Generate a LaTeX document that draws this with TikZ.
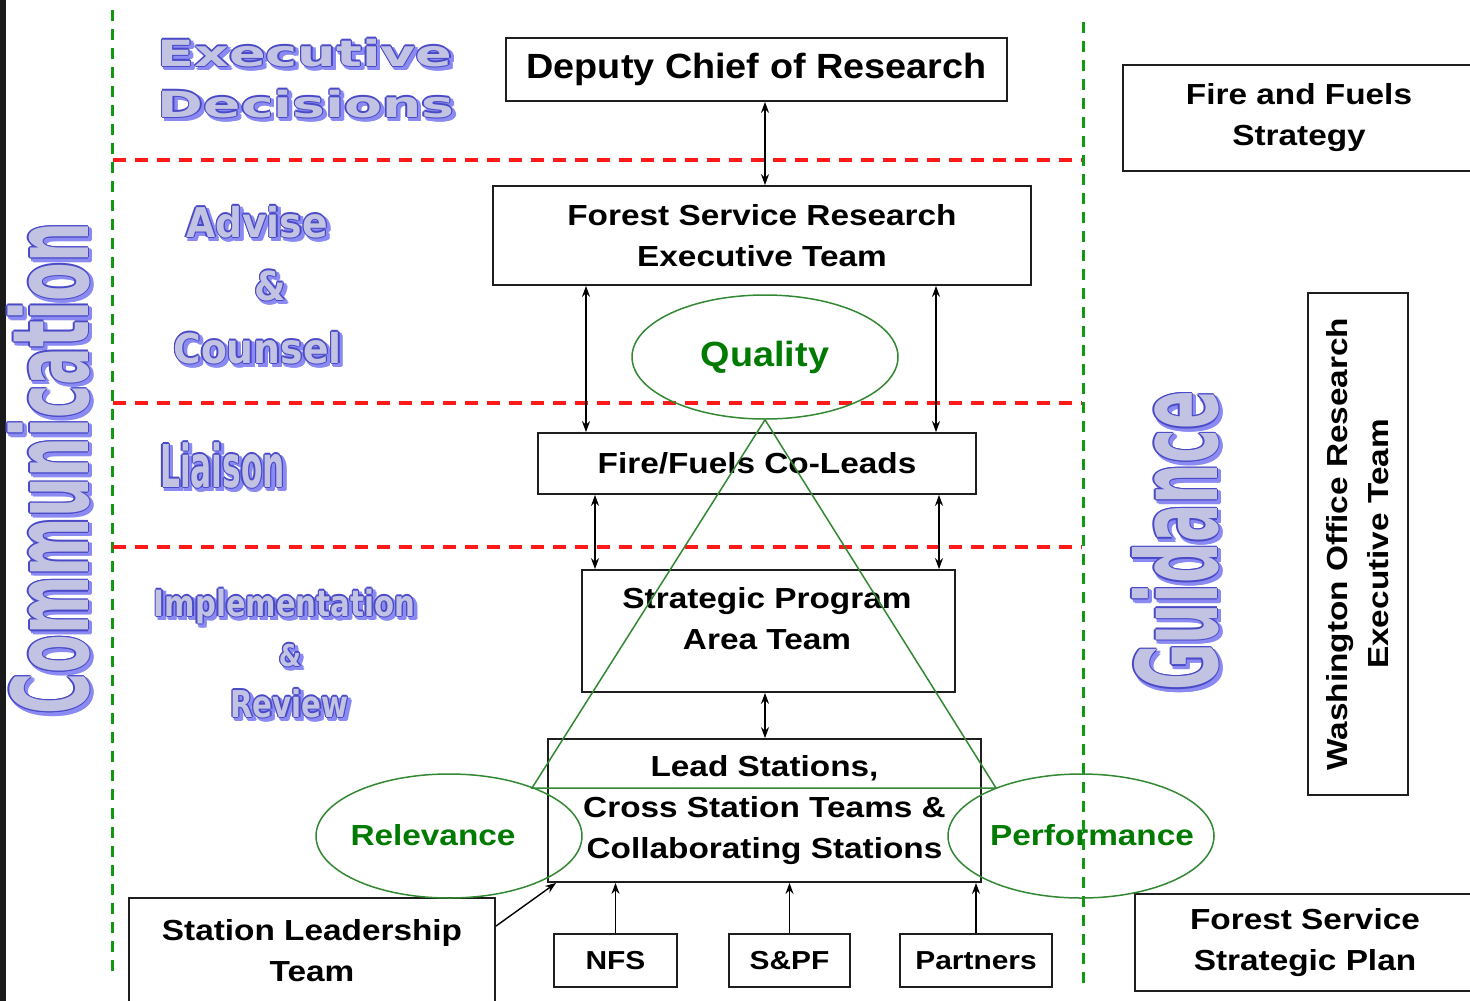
\documentclass[tikz,border=0pt]{standalone}
\usepackage{fontspec}
\usepackage{graphicx}
\usetikzlibrary{arrows.meta,shapes.geometric}
\setmainfont{Liberation Sans}
\newfontfamily\mainf{Liberation Sans}[FakeStretch=1.15]
\newfontfamily\depf{Liberation Sans}[FakeStretch=1.08]
\newfontfamily\wafont{DejaVu Sans}
\definecolor{waFill}{HTML}{C2C3E2}
\definecolor{waLine}{HTML}{4A4AC8}
\definecolor{waShadow}{HTML}{8A8AF2}
\definecolor{dkgreen}{HTML}{007A00}
\definecolor{elgreen}{HTML}{338833}
\definecolor{redd}{HTML}{FF1A1A}
\definecolor{grd}{HTML}{119911}
\definecolor{boxline}{HTML}{1E1E1E}
\definecolor{strip}{HTML}{1A1A1A}
\def\waoff{1.3/0,0.92/0.92,0/1.3,-0.92/0.92,-1.3/0,-0.92/-0.92,0/-1.3,0.92/-0.92}
\def\shoff{1.8/0,1.27/1.27,0/1.8,-1.27/1.27,-1.8/0,-1.27/-1.27,0/-1.8,1.27/-1.27}
\newcommand\wordart[7]{%
  \foreach \dx/\dy [count=\k] in \shoff {
    \node[wa, text=waShadow, #4] (#1-s\k) at ({#2+3+\dx},{#3+3+\dy}) {\fontsize{#5}{#5}\selectfont\scalebox{#6}[1]{#7}};
  }
  \foreach \dx/\dy [count=\k] in \waoff {
    \node[wa, text=waLine, #4] (#1-o\k) at ({#2+\dx},{#3+\dy}) {\fontsize{#5}{#5}\selectfont\scalebox{#6}[1]{#7}};
  }
  \node[wa, text=waFill, #4] (#1) at (#2,#3) {\fontsize{#5}{#5}\selectfont\scalebox{#6}[1]{#7}};
}
\tikzset{
  wa/.style={font=\wafont\bfseries, anchor=base, inner sep=0pt},
  box/.style={draw=boxline, line width=1.8pt, rectangle, inner sep=0pt, align=center,
    font=\mainf\bfseries\fontsize{29}{41}\selectfont},
  small/.style={font=\mainf\bfseries\fontsize{26}{30}\selectfont},
  txt/.style={inner sep=0pt, align=center, font=\mainf\bfseries\fontsize{29}{41}\selectfont},
  ell/.style={ellipse, draw=elgreen, line width=1.5pt, minimum width=266pt, minimum height=124pt, inner sep=0pt},
  gtxt/.style={inner sep=0pt, text=dkgreen, font=\mainf\bfseries\fontsize{29}{34}\selectfont},
  tri/.style={draw=elgreen, line width=1.5pt},
  reddash/.style={draw=redd, line width=3.2pt, dash pattern=on 13pt off 9pt},
  grdash/.style={draw=grd, line width=3pt, dash pattern=on 11pt off 8pt},
  darr/.style={line width=1.4pt, {Stealth[length=11pt,width=8pt]}-{Stealth[length=11pt,width=8pt]}},
  sarr/.style={line width=1.4pt, -{Stealth[length=11pt,width=8pt]}}
}
\begin{document}
\begin{tikzpicture}[x=1pt, y=-1pt]
\useasboundingbox (0,0) rectangle (1470,1001);
\fill[white] (0,0) rectangle (1470,1001);
\fill[strip] (0,0) rectangle (6,1001);

% dashed guide lines
\draw[grdash] (112,10) -- (112,975);
\draw[grdash] (1083,22) -- (1083,990);
\draw[reddash] (113,160) -- (1082,160);
\draw[reddash] (113,403) -- (1082,403);
\draw[reddash] (113,547) -- (1082,547);

% boxes
\node[box, minimum width=501pt, minimum height=63pt, font=\depf\bfseries\fontsize{35}{40}\selectfont] (deputy) at (756.5,69.5) {Deputy Chief of Research};
\node[box, minimum width=538pt, minimum height=99pt] (fsr) at (762,235.5) {Forest Service Research\\Executive Team};
\node[box, minimum width=438pt, minimum height=61pt] (col) at (757,463.5) {Fire/Fuels Co-Leads};
\node[box, minimum width=373pt, minimum height=122pt] (spa) at (768.5,631) {};
\node[txt] (spat) at (767,619) {Strategic Program\\Area Team};
\node[box, minimum width=433pt, minimum height=143pt] (lead) at (764.5,810.5) {Lead Stations,\\Cross Station Teams \&\\Collaborating Stations};
\node[box, minimum width=366pt, minimum height=105pt] (slt) at (312,950.5) {Station Leadership\\Team};
\node[box, small, minimum width=123pt, minimum height=53pt] (nfs) at (615.5,960.5) {NFS};
\node[box, small, minimum width=121pt, minimum height=53pt] (spf) at (789.5,960.5) {S\&PF};
\node[box, small, minimum width=152pt, minimum height=53pt] (partners) at (976,960.5) {Partners};
\node[box, minimum width=352pt, minimum height=106pt] (ffs) at (1299,118) {Fire and Fuels\\Strategy};
\node[box, rotate=90, minimum width=502pt, minimum height=100pt] (wo) at (1358,544) {Washington Office Research\\Executive Team};
\node[box, minimum width=340pt, minimum height=97pt] (fssp) at (1305,942.5) {Forest Service\\Strategic Plan};

% arrows
\coordinate (a1) at ([xshift=8.5pt]deputy.south);
\draw[darr] (a1) -- (a1 |- fsr.north);
\coordinate (a2) at ([xshift=-176pt]fsr.south);
\draw[darr] (a2) -- (a2 |- col.north);
\coordinate (a3) at ([xshift=174pt]fsr.south);
\draw[darr] (a3) -- (a3 |- col.north);
\coordinate (a4) at ([xshift=-162pt]col.south);
\draw[darr] (a4) -- (a4 |- spa.north);
\coordinate (a5) at ([xshift=182pt]col.south);
\draw[darr] (a5) -- (a5 |- spa.north);
\coordinate (a6) at ([xshift=-3.5pt]spa.south);
\draw[darr] (a6) -- (a6 |- lead.north);
\coordinate (s1) at ([yshift=-29pt]slt.north east);
\coordinate (s2) at ([xshift=9pt]lead.south west);
\draw[sarr] (s1) -- (s2);
\draw[sarr] (nfs.north) -- (nfs.north |- lead.south);
\draw[sarr] (spf.north) -- (spf.north |- lead.south);
\draw[sarr] (partners.north) -- (partners.north |- lead.south);

% green ellipses and triangle
\node[ell, text=dkgreen, font=\depf\bfseries\fontsize{35}{40}\selectfont] (qual) at (765,357) {Quality};
\node[ell] (rel) at (449,836) {};
\node[gtxt] (relt) at (433,835) {Relevance};
\node[ell] (perf) at (1081,836) {};
\node[gtxt] (perft) at (1092,835) {Performance};
\coordinate (tl) at (532,788);
\coordinate (tr) at (996,788);
\draw[tri] (tl) -- (qual.south) -- (tr) -- cycle;

% word art labels
\wordart{wExec}{305}{66}{}{36}{1.50}{Executive}
\wordart{wDec}{306}{117}{}{36}{1.53}{Decisions}
\wordart{wAdv}{257}{237}{}{41}{0.92}{Advise}
\wordart{wAmpA}{270}{300}{}{40}{0.9}{\&}
\wordart{wCoun}{257.5}{363}{}{41}{0.92}{Counsel}
\wordart{wLia}{222.5}{487}{}{59}{0.53}{Liaison}
\wordart{wImp}{284.5}{616}{}{36}{0.81}{Implementation}
\wordart{wAmpB}{290}{666}{}{30}{0.85}{\&}
\wordart{wRev}{289.5}{717}{}{37}{0.79}{Review}
\wordart{wComm}{88}{468.5}{rotate=90}{106}{0.53}{Communication}
\wordart{wGuid}{1217}{541}{rotate=90}{112}{0.51}{Guidance}
\end{tikzpicture}
\end{document}
